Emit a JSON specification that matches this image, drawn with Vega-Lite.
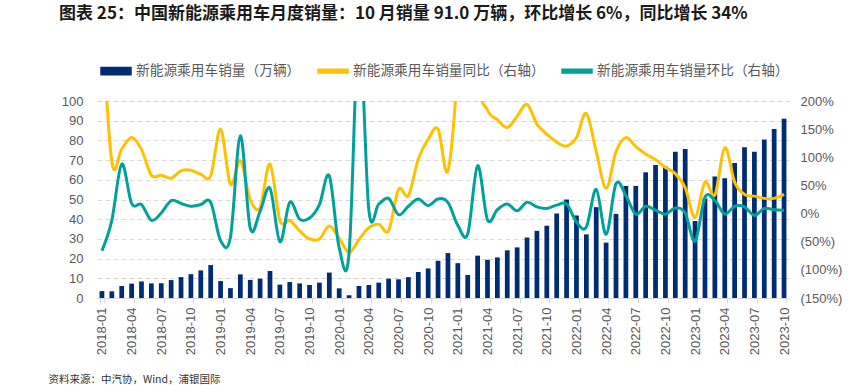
{
  "$schema": "https://vega.github.io/schema/vega-lite/v6.json",
  "autosize": {"type": "none"},
  "width": 692,
  "height": 197,
  "padding": {"left": 97, "top": 101, "right": 74, "bottom": 87},
  "background": "white",
  "config": {"view": {"stroke": null}, "font": "Liberation Sans"},
  "title": {
    "text": "图表 25：中国新能源乘用车月度销量：10 月销量 91.0 万辆，环比增长 6%，同比增长 34%",
    "anchor": "start",
    "frame": "group",
    "dx": -38,
    "dy": 8,
    "offset": 40,
    "font": "Noto Sans CJK SC",
    "fontSize": 17,
    "fontWeight": "bold",
    "color": "#1a1a1a"
  },
  "data": {"values": [
    {"m": "2018-01", "sales": 3.5, "yoy": 350, "mom": -66},
    {"m": "2018-02", "sales": 3.4, "yoy": 92, "mom": -12},
    {"m": "2018-03", "sales": 6.1, "yoy": 115, "mom": 88},
    {"m": "2018-04", "sales": 7.3, "yoy": 135, "mom": 18},
    {"m": "2018-05", "sales": 8.4, "yoy": 114, "mom": 16},
    {"m": "2018-06", "sales": 7.4, "yoy": 68, "mom": -12},
    {"m": "2018-07", "sales": 7.5, "yoy": 68, "mom": 1},
    {"m": "2018-08", "sales": 9.1, "yoy": 63, "mom": 23},
    {"m": "2018-09", "sales": 10.6, "yoy": 76, "mom": 18},
    {"m": "2018-10", "sales": 12.1, "yoy": 77, "mom": 13},
    {"m": "2018-11", "sales": 14.0, "yoy": 70, "mom": 16},
    {"m": "2018-12", "sales": 16.7, "yoy": 67, "mom": 20},
    {"m": "2019-01", "sales": 8.6, "yoy": 150, "mom": -48},
    {"m": "2019-02", "sales": 5.0, "yoy": 52, "mom": -42},
    {"m": "2019-03", "sales": 12.0, "yoy": 94, "mom": 138},
    {"m": "2019-04", "sales": 9.2, "yoy": 25, "mom": -26},
    {"m": "2019-05", "sales": 9.8, "yoy": 11, "mom": 4},
    {"m": "2019-06", "sales": 13.7, "yoy": 88, "mom": 45},
    {"m": "2019-07", "sales": 6.8, "yoy": -12, "mom": -50},
    {"m": "2019-08", "sales": 8.1, "yoy": -12, "mom": 20},
    {"m": "2019-09", "sales": 7.4, "yoy": -31, "mom": -10},
    {"m": "2019-10", "sales": 6.6, "yoy": -45, "mom": -8},
    {"m": "2019-11", "sales": 7.8, "yoy": -45, "mom": 16},
    {"m": "2019-12", "sales": 12.9, "yoy": -22, "mom": 67},
    {"m": "2020-01", "sales": 4.9, "yoy": -44, "mom": -61},
    {"m": "2020-02", "sales": 1.4, "yoy": -69, "mom": -70},
    {"m": "2020-03", "sales": 6.1, "yoy": -46, "mom": 330},
    {"m": "2020-04", "sales": 6.6, "yoy": -25, "mom": 6},
    {"m": "2020-05", "sales": 7.8, "yoy": -19, "mom": 17},
    {"m": "2020-06", "sales": 9.8, "yoy": -30, "mom": 27},
    {"m": "2020-07", "sales": 9.5, "yoy": 43, "mom": -2},
    {"m": "2020-08", "sales": 10.6, "yoy": 32, "mom": 13},
    {"m": "2020-09", "sales": 13.2, "yoy": 97, "mom": 26},
    {"m": "2020-10", "sales": 15.0, "yoy": 132, "mom": 14},
    {"m": "2020-11", "sales": 18.9, "yoy": 150, "mom": 26},
    {"m": "2020-12", "sales": 22.8, "yoy": 76, "mom": 20},
    {"m": "2021-01", "sales": 17.7, "yoy": 260, "mom": -21},
    {"m": "2021-02", "sales": 11.7, "yoy": 600, "mom": -36},
    {"m": "2021-03", "sales": 21.5, "yoy": 250, "mom": 85},
    {"m": "2021-04", "sales": 19.4, "yoy": 184, "mom": -11},
    {"m": "2021-05", "sales": 20.6, "yoy": 167, "mom": 7},
    {"m": "2021-06", "sales": 24.2, "yoy": 153, "mom": 17},
    {"m": "2021-07", "sales": 25.7, "yoy": 173, "mom": 5},
    {"m": "2021-08", "sales": 30.7, "yoy": 194, "mom": 20},
    {"m": "2021-09", "sales": 34.1, "yoy": 159, "mom": 12},
    {"m": "2021-10", "sales": 36.7, "yoy": 141, "mom": 9},
    {"m": "2021-11", "sales": 42.9, "yoy": 127, "mom": 15},
    {"m": "2021-12", "sales": 50.0, "yoy": 120, "mom": 17},
    {"m": "2022-01", "sales": 41.9, "yoy": 135, "mom": -15},
    {"m": "2022-02", "sales": 32.3, "yoy": 178, "mom": -24},
    {"m": "2022-03", "sales": 46.1, "yoy": 110, "mom": 43},
    {"m": "2022-04", "sales": 28.1, "yoy": 45, "mom": -37},
    {"m": "2022-05", "sales": 42.7, "yoy": 110, "mom": 53},
    {"m": "2022-06", "sales": 56.9, "yoy": 135, "mom": 32},
    {"m": "2022-07", "sales": 56.9, "yoy": 119, "mom": -1},
    {"m": "2022-08", "sales": 63.8, "yoy": 106, "mom": 13},
    {"m": "2022-09", "sales": 67.5, "yoy": 96, "mom": 6},
    {"m": "2022-10", "sales": 66.8, "yoy": 82, "mom": -1},
    {"m": "2022-11", "sales": 74.2, "yoy": 71, "mom": 10},
    {"m": "2022-12", "sales": 75.6, "yoy": 46, "mom": 1},
    {"m": "2023-01", "sales": 39.1, "yoy": -7, "mom": -49},
    {"m": "2023-02", "sales": 50.5, "yoy": 56, "mom": 29},
    {"m": "2023-03", "sales": 61.7, "yoy": 33, "mom": 23},
    {"m": "2023-04", "sales": 60.8, "yoy": 117, "mom": -1},
    {"m": "2023-05", "sales": 68.5, "yoy": 56, "mom": 13},
    {"m": "2023-06", "sales": 76.5, "yoy": 34, "mom": 12},
    {"m": "2023-07", "sales": 74.3, "yoy": 31, "mom": -3},
    {"m": "2023-08", "sales": 80.5, "yoy": 27, "mom": 9},
    {"m": "2023-09", "sales": 85.8, "yoy": 27, "mom": 7},
    {"m": "2023-10", "sales": 91.0, "yoy": 34, "mom": 6}
  ]},
  "layer": [
    {
      "mark": {"type": "bar"},
      "encoding": {
        "x": {
          "field": "m", "type": "ordinal",
          "scale": {"paddingInner": 0.52, "paddingOuter": 0.26},
          "axis": {
            "values": ["2018-01","2018-04","2018-07","2018-10","2019-01","2019-04","2019-07","2019-10","2020-01","2020-04","2020-07","2020-10","2021-01","2021-04","2021-07","2021-10","2022-01","2022-04","2022-07","2022-10","2023-01","2023-04","2023-07","2023-10"],
            "labelAngle": -90,
            "tickBand": "extent",
            "domainColor": "#D9D9D9",
            "tickColor": "#D9D9D9",
            "tickSize": 5,
            "labelFontSize": 13,
            "labelColor": "#595959",
            "labelPadding": 4,
            "title": "资料来源：中汽协，Wind，浦银国际",
            "titleAnchor": "start",
            "titleX": -49,
            "titleY": 81,
            "titleAlign": "left",
            "titleBaseline": "middle",
            "titleFont": "Noto Sans CJK SC",
            "titleFontSize": 10.5,
            "titleFontWeight": "normal",
            "titleColor": "#333333"
          }
        },
        "y": {
          "field": "sales", "type": "quantitative",
          "scale": {"domain": [0, 100], "nice": false},
          "axis": {
            "orient": "left",
            "values": [0,10,20,30,40,50,60,70,80,90,100],
            "grid": true, "gridDash": [5, 3], "gridColor": "#D9D9D9",
            "domain": false, "ticks": false,
            "labelPadding": 14, "labelFontSize": 13, "labelColor": "#595959",
            "title": null
          }
        },
        "color": {
          "datum": "新能源乘用车销量（万辆）",
          "type": "nominal",
          "scale": {
            "domain": ["新能源乘用车销量（万辆）", "新能源乘用车销量同比（右轴）", "新能源乘用车销量环比（右轴）"],
            "range": ["#002D72", "#FFC000", "#00A19A"]
          },
          "legend": {
            "orient": "none", "legendX": 3, "legendY": -46,
            "direction": "horizontal", "title": null,
            "labelFont": "Noto Sans CJK SC", "labelFontSize": 13.7, "labelColor": "#595959", "labelLimit": 0,
            "symbolSize": 900, "columnPadding": 14, "labelOffset": 4,
            "symbolType": "M-1,-0.24H1V0.24H-1Z",
            "encode": {"symbols": {"update": {
              "fill": {"scale": "color", "field": "value"},
              "stroke": {"value": "transparent"},
              "shape": {"signal": "datum.value === '新能源乘用车销量（万辆）' ? 'M-1,-0.24H1V0.24H-1Z' : 'M-1,-0.13H1V0.13H-1Z'"}
            }}}
          }
        }
      }
    },
    {
      "layer": [
        {
          "mark": {"type": "line", "interpolate": "cardinal", "strokeWidth": 3, "clip": true},
          "encoding": {
            "x": {"field": "m", "type": "ordinal"},
            "y": {
              "field": "yoy", "type": "quantitative",
              "scale": {"domain": [-150, 200], "nice": false},
              "axis": {
                "orient": "right",
                "values": [-150,-100,-50,0,50,100,150,200],
                "grid": false, "domain": false, "ticks": false,
                "labelPadding": 11, "labelFontSize": 13, "labelColor": "#595959",
                "labelExpr": "datum.value < 0 ? '(' + abs(datum.value) + '%)' : datum.value + '%'",
                "title": null
              }
            },
            "color": {
              "datum": "新能源乘用车销量同比（右轴）",
              "type": "nominal",
              "legend": {
                "orient": "none", "legendX": 3, "legendY": -46,
                "direction": "horizontal", "title": null,
                "labelFont": "Noto Sans CJK SC", "labelFontSize": 13.7, "labelColor": "#595959", "labelLimit": 0,
                "symbolSize": 900, "columnPadding": 14, "labelOffset": 4,
                "symbolType": "M-1,-0.24H1V0.24H-1Z",
                "encode": {"symbols": {"update": {
                  "fill": {"scale": "color", "field": "value"},
                  "stroke": {"value": "transparent"},
                  "shape": {"signal": "datum.value === '新能源乘用车销量（万辆）' ? 'M-1,-0.24H1V0.24H-1Z' : 'M-1,-0.13H1V0.13H-1Z'"}
                }}}
              }
            }
          }
        },
        {
          "mark": {"type": "line", "interpolate": "cardinal", "strokeWidth": 3, "clip": true},
          "encoding": {
            "x": {"field": "m", "type": "ordinal"},
            "y": {
              "field": "mom", "type": "quantitative",
              "scale": {"domain": [-150, 200], "nice": false},
              "axis": {
                "orient": "right",
                "values": [-150,-100,-50,0,50,100,150,200],
                "grid": false, "domain": false, "ticks": false,
                "labelPadding": 11, "labelFontSize": 13, "labelColor": "#595959",
                "labelExpr": "datum.value < 0 ? '(' + abs(datum.value) + '%)' : datum.value + '%'",
                "title": null
              }
            },
            "color": {
              "datum": "新能源乘用车销量环比（右轴）",
              "type": "nominal",
              "legend": {
                "orient": "none", "legendX": 3, "legendY": -46,
                "direction": "horizontal", "title": null,
                "labelFont": "Noto Sans CJK SC", "labelFontSize": 13.7, "labelColor": "#595959", "labelLimit": 0,
                "symbolSize": 900, "columnPadding": 14, "labelOffset": 4,
                "symbolType": "M-1,-0.24H1V0.24H-1Z",
                "encode": {"symbols": {"update": {
                  "fill": {"scale": "color", "field": "value"},
                  "stroke": {"value": "transparent"},
                  "shape": {"signal": "datum.value === '新能源乘用车销量（万辆）' ? 'M-1,-0.24H1V0.24H-1Z' : 'M-1,-0.13H1V0.13H-1Z'"}
                }}}
              }
            }
          }
        }
      ]
    }
  ],
  "resolve": {"scale": {"y": "independent"}}
}
